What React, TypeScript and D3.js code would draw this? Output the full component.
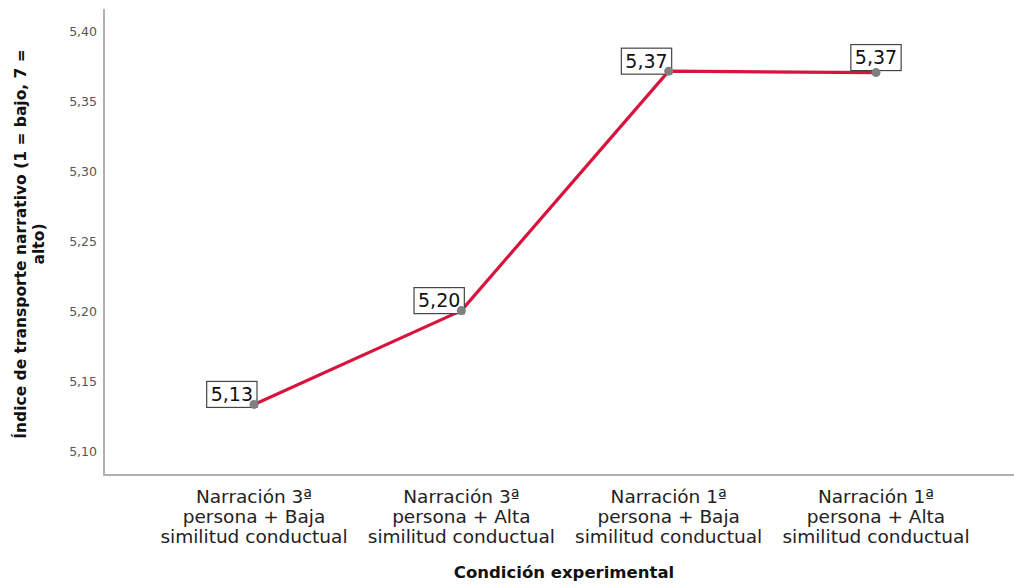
import * as d3 from "d3";
import { useEffect, useRef } from "react";

const categories = [
  ["Narración 3ª", "persona + Baja", "similitud conductual"],
  ["Narración 3ª", "persona + Alta", "similitud conductual"],
  ["Narración 1ª", "persona + Baja", "similitud conductual"],
  ["Narración 1ª", "persona + Alta", "similitud conductual"],
];
const means = [5.134, 5.201, 5.372, 5.371];
const yTicks = [5.1, 5.15, 5.2, 5.25, 5.3, 5.35, 5.4];
const labelAlign = ["end", "end", "end", "middle"];

const W = 1014;
const H = 584;
const font = "'DejaVu Sans', Verdana, sans-serif";

export default function App() {
  const ref = useRef<SVGSVGElement>(null);

  useEffect(() => {
    if (!ref.current) return;
    const svg = d3.select(ref.current);
    svg.selectAll("*").remove();

    const left = 104;
    const top = 9;
    const bottom = 475;

    const x = d3
      .scalePoint<number>()
      .domain(d3.range(categories.length))
      .range([254, 876]);
    const y = d3.scaleLinear().domain([5.0836, 5.4164]).range([bottom, top]);
    const fmt = (v: number) => v.toFixed(2).replace(".", ",");

    // axes
    svg
      .append("line")
      .attr("x1", left)
      .attr("x2", left)
      .attr("y1", top)
      .attr("y2", bottom + 1)
      .attr("stroke", "#b0b0b0")
      .attr("stroke-width", 2);
    svg
      .append("line")
      .attr("x1", left)
      .attr("x2", W)
      .attr("y1", bottom)
      .attr("y2", bottom)
      .attr("stroke", "#b0b0b0")
      .attr("stroke-width", 2);

    svg
      .selectAll("text.ytick")
      .data(yTicks)
      .enter()
      .append("text")
      .attr("class", "ytick")
      .attr("x", left - 7)
      .attr("y", (d) => y(d))
      .attr("dy", "0.35em")
      .attr("text-anchor", "end")
      .attr("font-family", font)
      .attr("font-size", 12.5)
      .attr("fill", "#555")
      .text((d) => fmt(d));

    // category labels
    const cat = svg
      .selectAll("text.cat")
      .data(categories)
      .enter()
      .append("text")
      .attr("class", "cat")
      .attr("text-anchor", "middle")
      .attr("font-family", font)
      .attr("font-size", 18.5)
      .attr("fill", "#222");
    cat
      .selectAll("tspan")
      .data((d, i) => d.map((t) => ({ t, i })))
      .enter()
      .append("tspan")
      .attr("x", (d) => x(d.i)!)
      .attr("y", (d, j) => 503 + j * 20)
      .text((d) => d.t);

    svg
      .append("text")
      .attr("x", 564)
      .attr("y", 578)
      .attr("text-anchor", "middle")
      .attr("font-family", font)
      .attr("font-weight", "bold")
      .attr("font-size", 16.5)
      .attr("fill", "#111")
      .text("Condición experimental");

    const yt = svg
      .append("text")
      .attr("transform", `translate(0,244) rotate(-90)`)
      .attr("text-anchor", "middle")
      .attr("font-family", font)
      .attr("font-weight", "bold")
      .attr("font-size", 15.5)
      .attr("fill", "#111");
    yt.append("tspan").attr("x", 0).attr("y", 26).text("Índice de transporte narrativo (1 = bajo, 7 =");
    yt.append("tspan").attr("x", 0).attr("y", 44).text("alto)");

    // line
    const line = d3
      .line<number>()
      .x((d, i) => x(i)!)
      .y((d) => y(d));
    svg
      .append("path")
      .datum(means)
      .attr("d", line)
      .attr("fill", "none")
      .attr("stroke", "#d8143c")
      .attr("stroke-width", 3.2)
      .attr("stroke-linejoin", "round");

    // value labels
    means.forEach((v, i) => {
      const px = x(i)!;
      const py = y(v);
      const g = svg.append("g");
      const rect = g.append("rect");
      const t = g
        .append("text")
        .attr("font-family", font)
        .attr("font-size", 19)
        .attr("fill", "#111")
        .attr("text-anchor", "middle")
        .text(fmt(v));
      const bb = (t.node() as SVGTextElement).getBBox();
      const bw = bb.width + 8;
      const bh = 26;
      const bx = labelAlign[i] === "end" ? px + 3 - bw : px - bw / 2;
      const by = labelAlign[i] === "end" ? py + 3 - bh : py - 2 - bh;
      rect
        .attr("x", bx)
        .attr("y", by)
        .attr("width", bw)
        .attr("height", bh)
        .attr("fill", "#fff")
        .attr("stroke", "#444")
        .attr("stroke-width", 1.2);
      t.attr("x", bx + bw / 2).attr("y", by + bh / 2).attr("dy", "0.36em");
    });

    svg
      .selectAll("circle.pt")
      .data(means)
      .enter()
      .append("circle")
      .attr("class", "pt")
      .attr("cx", (d, i) => x(i)!)
      .attr("cy", (d) => y(d))
      .attr("r", 4.5)
      .attr("fill", "#7f7f7f");
  }, []);

  return (
    <svg
      ref={ref}
      width={W}
      height={H}
      style={{ position: "absolute", left: 0, top: 0, background: "#fff" }}
    />
  );
}
